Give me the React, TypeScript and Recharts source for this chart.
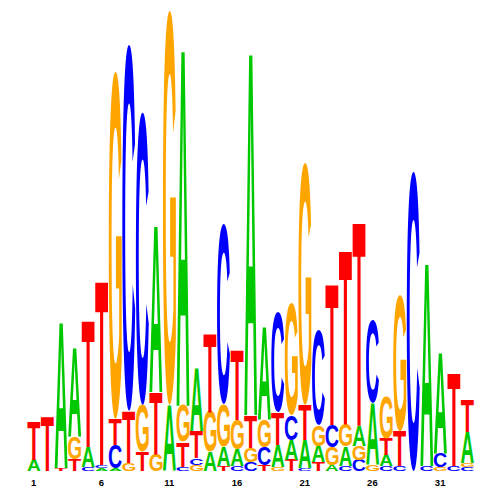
import { BarChart, Bar, XAxis, YAxis } from "recharts";

// sequence logo: information content (bits) per letter, per position
const positions = [
  "1", "2", "3", "4", "5", "6", "7", "8", "9", "10", "11", "12", "13", "14", "15", "16", "17",
  "18", "19", "20", "21", "22", "23", "24", "25", "26", "27", "28", "29", "30", "31", "32", "33",
];

const bitsA = [
  0.048, 0, 0.635, 0.387, 0.087, 0.013, 0.013, 0, 0, 0.726, 0.287, 1.561, 0.274, 0.083, 0.083, 0.07, 1.587,
  0.404, 0.096, 0.087, 0.122, 0.07, 0.026, 0.083, 0.087, 0.27, 0.048, 0, 0, 0.887, 0.439, 0, 0.135,
];
const bitsC = [
  0, 0, 0, 0, 0.017, 0.013, 0.1, 1.591, 1.27, 0, 0, 0.017, 0.03, 0, 0.783, 0.022, 0.039,
  0.078, 0.435, 0.109, 0.013, 0.413, 0.096, 0.022, 0.048, 0.361, 0.022, 0.022, 1.3, 0.022, 0.061, 0.022, 0.017,
];
const bitsG = [
  0, 0, 0, 0.096, 0, 0, 1.509, 0.035, 0.204, 0.074, 1.717, 0.157, 0.026, 0.174, 0.183, 0.13, 0.061,
  0.117, 0.017, 0.487, 1.052, 0.091, 0.078, 0.096, 0.061, 0.026, 0.183, 0.591, 0, 0, 0.017, 0, 0.017,
];
const bitsT = [
  0.17, 0.239, 0.013, 0.052, 0.552, 0.804, 0.113, 0.226, 0.083, 0.27, 0, 0.109, 0.117, 0.343, 0.022, 0.304, 0.143,
  0.026, 0.143, 0.048, 0.152, 0.039, 0.617, 0.761, 0.891, 0, 0.07, 0.152, 0, 0, 0, 0.404, 0.139,
];

const tickLabels = ["1", "6", "11", "16", "21", "26", "31"];

const COLORS: Record<string, string> = {
  A: "#00C800",
  C: "#0000FF",
  G: "#FFA500",
  T: "#FF0000",
};

const FONT = "'Liberation Sans', Arial, Helvetica, sans-serif";

// tallest letter goes on top, so stack each column by rank
const rows = positions.map((pos, i) => {
  const cells = [
    { l: "A", v: bitsA[i] },
    { l: "C", v: bitsC[i] },
    { l: "G", v: bitsG[i] },
    { l: "T", v: bitsT[i] },
  ].sort((a, b) => a.v - b.v);
  const row: any = { pos };
  cells.forEach((c, k) => {
    row[`s${k}`] = c.v;
    row[`l${k}`] = c.l;
  });
  return row;
});

type Box = { left: number; right: number; ascent: number; descent: number };
let boxCache: Record<string, Box> | null = null;

// ink bounds of each glyph at 100px, so a letter can be stretched to fill its bar
function glyphBoxes(): Record<string, Box> {
  if (boxCache) return boxCache;
  const fallback: Record<string, Box> = {
    A: { left: 0, right: 72, ascent: 72, descent: 0 },
    C: { left: -5, right: 68, ascent: 73, descent: 1 },
    G: { left: -5, right: 72, ascent: 73, descent: 1 },
    T: { left: -2, right: 59, ascent: 72, descent: 0 },
  };
  try {
    const ctx = document.createElement("canvas").getContext("2d");
    if (!ctx) return fallback;
    ctx.font = `bold 100px ${FONT}`;
    const out: Record<string, Box> = {};
    for (const l of ["A", "C", "G", "T"]) {
      const m = ctx.measureText(l);
      out[l] = {
        left: m.actualBoundingBoxLeft,
        right: m.actualBoundingBoxRight,
        ascent: m.actualBoundingBoxAscent,
        descent: m.actualBoundingBoxDescent,
      };
    }
    boxCache = out;
    return out;
  } catch (e) {
    return fallback;
  }
}

function LetterShape(props: any) {
  const { x, y, width, height, payload, rank } = props;
  if (!height || height <= 0 || !width) return null;
  const letter = payload[`l${rank}`];
  const b = glyphBoxes()[letter];
  const sx = width / (b.right + b.left);
  const sy = height / (b.ascent + b.descent);
  const tx = x + b.left * sx;
  const ty = y + b.ascent * sy;
  return (
    <text
      transform={`translate(${tx},${ty}) scale(${sx},${sy})`}
      fontFamily={FONT}
      fontWeight="bold"
      fontSize={100}
      fill={COLORS[letter]}
    >
      {letter}
    </text>
  );
}

function PosTick(props: any) {
  const { x, y, payload } = props;
  if (!tickLabels.includes(String(payload.value))) return <g />;
  return (
    <text x={x} y={y} dy={7} textAnchor="middle" fontFamily={FONT} fontWeight="bold" fontSize={9.5} fill="#000">
      {payload.value}
    </text>
  );
}

export default function App() {
  return (
    <div style={{ position: "absolute", left: 0, top: 0, width: 500, height: 500, background: "#fff" }}>
      <BarChart
        width={500}
        height={500}
        data={rows}
        margin={{ top: 10, right: 26, left: 27, bottom: 9 }}
        barCategoryGap={0.5}
      >
        <XAxis dataKey="pos" interval={0} axisLine={false} tickLine={false} height={20} tick={<PosTick />} />
        <YAxis hide domain={[0, 2]} allowDataOverflow />
        {[0, 1, 2, 3].map((k) => (
          <Bar
            key={k}
            dataKey={`s${k}`}
            stackId="logo"
            isAnimationActive={false}
            shape={(p: any) => <LetterShape {...p} rank={k} />}
          />
        ))}
      </BarChart>
    </div>
  );
}
